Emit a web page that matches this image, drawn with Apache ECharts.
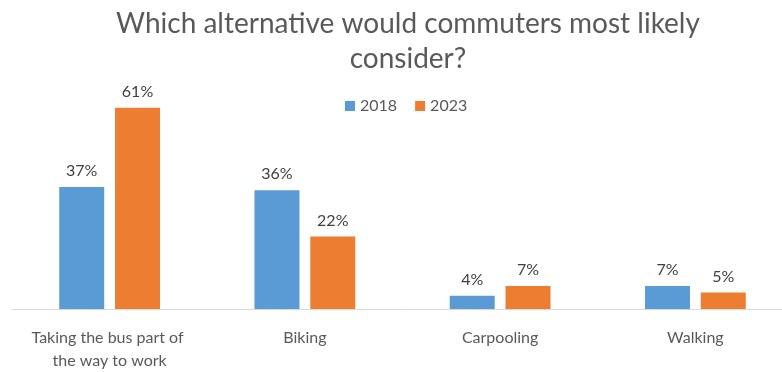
<!DOCTYPE html>
<html><head><meta charset="utf-8">
<script src="https://cdn.jsdelivr.net/npm/echarts@6/dist/echarts.min.js"></script>
<style>html,body{margin:0;padding:0;background:#fff;overflow:hidden}#c{width:793px;height:372px}</style>
</head><body><div id="c"></div>
<script>
const categories = ["Taking the bus part of the way to work", "Biking", "Carpooling", "Walking"];
const seriesNames = ["2018", "2023"];
const values2018 = [37, 36, 4, 7];
const values2023 = [61, 22, 7, 5];
const titleText = "Which alternative would commuters most likely\nconsider?";

const FONT = "Lato, 'Open Sans', sans-serif";
const chart = echarts.init(document.getElementById('c'), null, {renderer: 'canvas'});
const lbl = {show: true, position: 'top', distance: 8, formatter: '{c}%', color: '#404040', fontSize: 16, fontFamily: FONT};
chart.setOption({
  animation: false,
  backgroundColor: '#fff',
  title: {text: titleText, left: 403, top: 1, textAlign: 'center',
    textStyle: {fontFamily: FONT, fontSize: 28, fontWeight: 'normal', color: '#595959', lineHeight: 35}},
  legend: {data: seriesNames, left: 340, top: 93, itemWidth: 10, itemHeight: 10, itemGap: 18,
    icon: 'rect', textStyle: {fontFamily: FONT, fontSize: 16, color: '#595959'}},
  grid: {left: 12, right: 0, top: 78, bottom: 60},
  xAxis: {type: 'category', data: categories,
    axisLine: {lineStyle: {color: '#d9d9d9', width: 1}}, axisTick: {show: false},
    axisLabel: {fontFamily: FONT, fontSize: 16, color: '#595959', margin: 17, lineHeight: 23, width: 172, overflow: 'break', interval: 0}},
  yAxis: {type: 'value', min: 0, max: 70, show: false, splitLine: {show: false}},
  series: [
    {name: seriesNames[0], type: 'bar', data: values2018, barWidth: 45, barGap: '24%', itemStyle: {color: '#5B9BD5'}, label: lbl},
    {name: seriesNames[1], type: 'bar', data: values2023, barWidth: 45, barGap: '24%', itemStyle: {color: '#ED7D31'}, label: lbl}
  ]
});
</script></body></html>
